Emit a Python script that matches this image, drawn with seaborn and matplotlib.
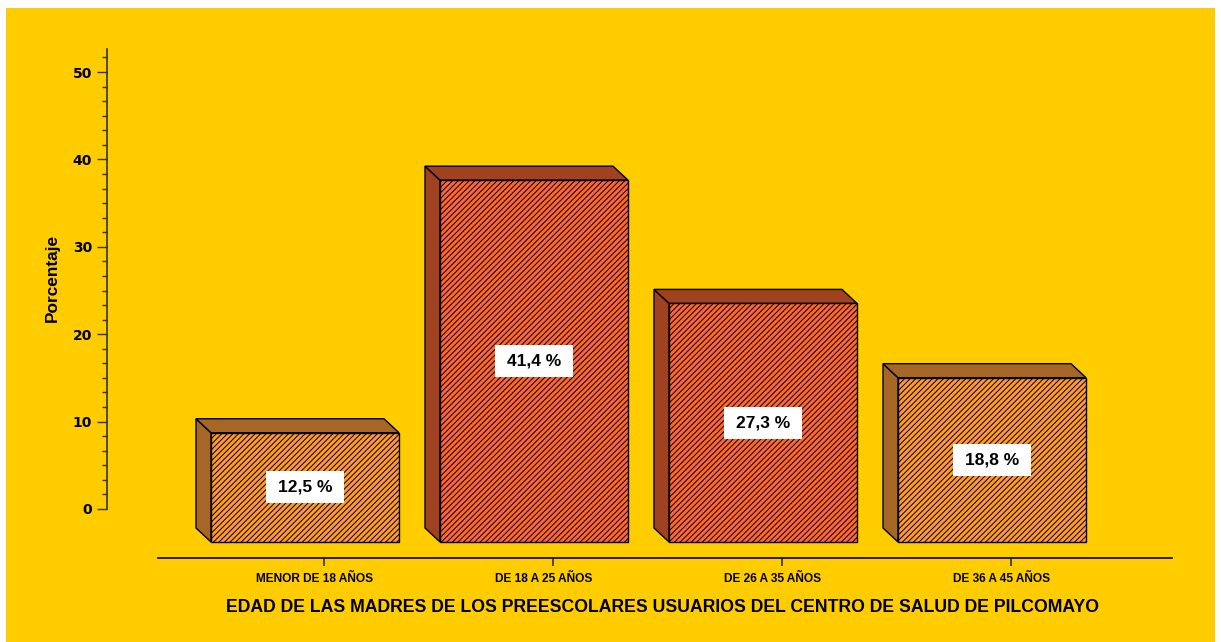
import matplotlib
matplotlib.use("Agg")
import matplotlib.pyplot as plt
from matplotlib.patches import Rectangle, Polygon
from matplotlib.ticker import MultipleLocator
import seaborn as sns

# Datos: distribución por edad de las madres
categorias = ["MENOR DE 18 AÑOS", "DE 18 A 25 AÑOS", "DE 26 A 35 AÑOS", "DE 36 A 45 AÑOS"]
porcentajes = [12.5, 41.4, 27.3, 18.8]
etiquetas = ["12,5 %", "41,4 %", "27,3 %", "18,8 %"]

# Colores de la cara frontal y de las caras laterales/superiores
color_frente = ["#FF9933", "#FF6633", "#FF6633", "#FF9933"]
color_lado = ["#A66626", "#A0411F", "#A0411F", "#A66626"]
fondo = "#FFCC00"

sns.set_style("ticks")
plt.rcParams["font.family"] = ["Liberation Sans", "DejaVu Sans"]
plt.rcParams["text.color"] = "black"
plt.rcParams["axes.labelcolor"] = "black"
plt.rcParams["xtick.color"] = "black"
plt.rcParams["ytick.color"] = "black"
plt.rcParams["hatch.linewidth"] = 0.7
plt.rcParams["hatch.color"] = "black"

W, H = 1221, 642
fig = plt.figure(figsize=(W / 100, H / 100), dpi=100)
fig.patch.set_facecolor("white")
fig.patches.append(Rectangle((6 / W, 0), 1209 / W, (H - 8) / H,
                             transform=fig.transFigure, facecolor=fondo,
                             edgecolor="none", zorder=-10))


def caja(x0, y_top, x1, y_bot):
    """Convierte coordenadas en píxeles (origen arriba-izquierda) a fracción de figura."""
    return [x0 / W, (H - y_bot) / H, (x1 - x0) / W, (y_bot - y_top) / H]


# Escala común: píxeles por unidad porcentual y por categoría
px_y = 8.74
px_x = 229.0

# --- Ejes de las barras ---
ax = fig.add_axes(caja(158, 50, 1172, 558))
ax.set_facecolor("none")
sns.barplot(x=categorias, y=porcentajes, hue=categorias, palette=color_frente,
            width=188 / px_x, edgecolor="black", linewidth=1.0, legend=False,
            saturation=1, ax=ax, zorder=3)
ax.set_xlim(-147 / px_x, 867 / px_x)
ax.set_ylim(-16 / px_y, 492 / px_y)

dx = -15 / px_x
dy = 14 / px_y
barras = sorted(ax.patches, key=lambda p: p.get_x())
for i, p in enumerate(barras):
    p.set_hatch("//////")
    x0, w, h = p.get_x(), p.get_width(), p.get_height()
    lado = Polygon([(x0, 0), (x0, h), (x0 + dx, h + dy), (x0 + dx, dy)],
                   closed=True, facecolor=color_lado[i], edgecolor="black",
                   linewidth=1.0, zorder=2)
    tapa = Polygon([(x0, h), (x0 + w, h), (x0 + w + dx, h + dy), (x0 + dx, h + dy)],
                   closed=True, facecolor=color_lado[i], edgecolor="black",
                   linewidth=1.0, zorder=2)
    ax.add_patch(lado)
    ax.add_patch(tapa)
    # Etiqueta del valor en recuadro blanco, centrada en la cara frontal
    cx = x0 + w / 2
    bw, bh = 78 / px_x, 32 / px_y
    ax.add_patch(Rectangle((cx - bw / 2, h / 2 - bh / 2), bw, bh,
                           facecolor="white", edgecolor="none", zorder=4))
    ax.text(cx, h / 2, etiquetas[i], ha="center", va="center",
            fontsize=12.5, fontweight="bold", color="black", zorder=5)

# Eje X: solo la línea inferior con marcas
for s in ["left", "right", "top"]:
    ax.spines[s].set_visible(False)
ax.spines["bottom"].set_linewidth(1.2)
ax.spines["bottom"].set_color("black")
ax.set_yticks([])
ax.set_xticks([i + 18.5 / px_x for i in range(len(categorias))])
ax.set_xticklabels([""] * len(categorias))
ax.tick_params(axis="x", direction="out", length=6, width=1.2, color="#333333")
for i, nombre in enumerate(categorias):
    ax.text(i + 9.5 / px_x, -21 / 508, nombre, transform=ax.get_xaxis_transform(),
            ha="center", va="center", fontsize=8.6, fontweight="bold")
ax.set_xlabel("")
ax.text((663 - 158) / 1014, -49 / 508,
        "EDAD DE LAS MADRES DE LOS PREESCOLARES USUARIOS DEL CENTRO DE SALUD DE PILCOMAYO",
        transform=ax.transAxes, ha="center", va="center",
        fontsize=12.7, fontweight="bold")

# --- Eje Y independiente ---
ay = fig.add_axes(caja(107, 49, 157, 509))
ay.set_facecolor("none")
ay.set_ylim(0, 460 / px_y)
ay.set_xticks([])
for s in ["bottom", "right", "top"]:
    ay.spines[s].set_visible(False)
ay.spines["left"].set_linewidth(1.2)
ay.spines["left"].set_color("#333333")
ay.yaxis.set_major_locator(MultipleLocator(10))
ay.yaxis.set_minor_locator(MultipleLocator(10 / 6))
ay.tick_params(axis="y", which="major", length=7.2, width=1.0, pad=3.6,
               color="#333333", labelsize=10)
ay.tick_params(axis="y", which="minor", length=3.6, width=1.0, color="#333333")
for t in ay.get_yticklabels():
    t.set_family(["DejaVu Sans"])
    t.set_fontweight("bold")
ay.set_ylabel("Porcentaje", fontsize=12.4, fontweight="bold")
ay.yaxis.set_label_coords((60 - 107) / 50, (509 - 278) / 460)

fig.savefig("out.png", dpi=100, facecolor=fig.get_facecolor())
